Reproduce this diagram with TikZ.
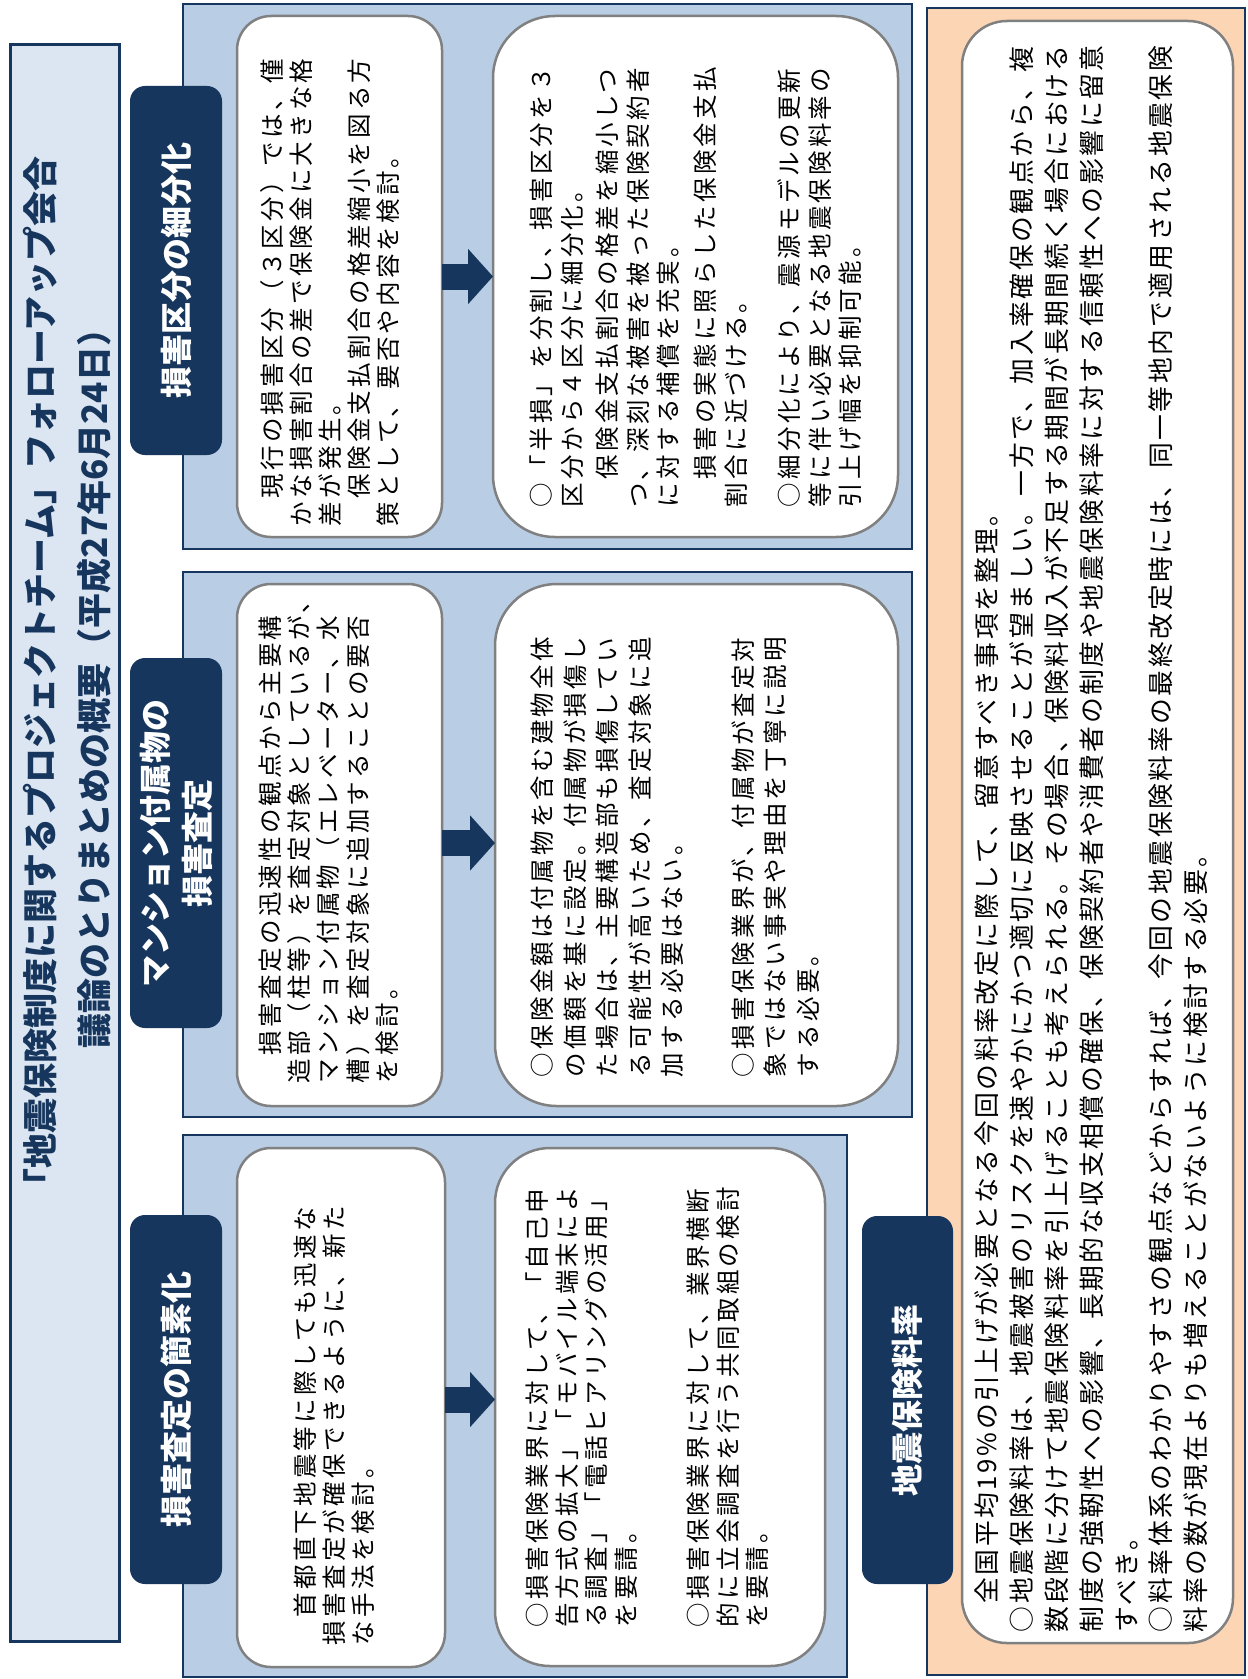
\documentclass[tikz,border=0pt]{standalone}
\usepackage{fontspec}
\setmainfont{Noto Sans CJK JP}
\newfontfamily\jpbody[LetterSpace=13]{Noto Sans CJK JP}
\newfontfamily\jpwide[LetterSpace=10]{Noto Sans CJK JP}
\usetikzlibrary{arrows.meta,calc}
\definecolor{navy}{RGB}{23,54,93}
\definecolor{panelblue}{RGB}{185,205,229}
\definecolor{titleblue}{RGB}{220,230,242}
\definecolor{peach}{RGB}{252,213,181}
\definecolor{boxgray}{RGB}{128,128,128}
\begin{document}
\begin{tikzpicture}[x=1bp,y=1bp,
  panel/.style={draw=navy, line width=2.5bp, fill=panelblue, anchor=north west, inner sep=0, outer sep=0},
  wbox/.style={draw=boxgray, line width=2.5bp, fill=white, anchor=north west, inner sep=0, outer sep=0},
  labelbox/.style={fill=navy, rounded corners=15bp, rotate=90, inner sep=0, outer sep=0,
    minimum height=92bp, text=white, align=center, font=\bfseries\fontsize{32bp}{42bp}\selectfont},
  bodytxt/.style={rotate=90, anchor=north west, align=left, inner sep=0, outer sep=0},
  smalltxt/.style={bodytxt, font=\jpbody\fontsize{24.5bp}{#1}\selectfont},
  widetxt/.style={bodytxt, font=\jpwide\fontsize{25.8bp}{34.8bp}\selectfont},
  bigarrow/.style={draw=navy, line width=26bp, -{Triangle[length=25bp,width=54bp]}}
]
\useasboundingbox (0,0) rectangle (1247,-1679);
\fill[white] (0,0) rectangle (1247,-1679);

% title
\node[draw=navy, line width=3bp, fill=titleblue, anchor=north west, inner sep=0,
  minimum width=109bp, minimum height=1597bp] (TB) at (9,-43) {};
\node[rotate=90, align=center, inner sep=0, text=navy,
  font=\bfseries\fontsize{35bp}{54bp}\selectfont] (TT) at (67,-680)
  {「地震保険制度に関するプロジェクトチーム」フォローアップ会合\\議論のとりまとめの概要（平成27年6月24日）};

% panels
\node[panel, minimum width=729bp, minimum height=545bp] (PA) at (183,-4) {};
\node[panel, minimum width=729bp, minimum height=545bp] (PB) at (183,-572) {};
\node[panel, minimum width=664bp, minimum height=542bp] (PC) at (183,-1135) {};
\node[panel, fill=peach, minimum width=318bp, minimum height=1667bp] (PE) at (927,-8) {};

% white boxes
\node[wbox, rounded corners=34bp, minimum width=205bp, minimum height=521bp] (A1) at (237,-16) {};
\node[wbox, rounded corners=62bp, minimum width=405bp, minimum height=521bp] (A2) at (493,-16) {};
\node[wbox, rounded corners=34bp, minimum width=205bp, minimum height=522bp] (B1) at (237,-584) {};
\node[wbox, rounded corners=62bp, minimum width=403bp, minimum height=522bp] (B2) at (495,-584) {};
\node[wbox, rounded corners=34bp, minimum width=208bp, minimum height=519bp] (C1) at (237,-1148) {};
\node[wbox, rounded corners=55bp, minimum width=330bp, minimum height=518bp] (C2) at (495,-1148) {};
\node[wbox, rounded corners=45bp, minimum width=271bp, minimum height=1622bp] (E) at (962,-21) {};

% labels
\node[labelbox, minimum width=369bp] (LA) at (176,-270.5) {損害区分の細分化};
\node[labelbox, minimum width=370bp] (LB) at (176,-843) {マンション付属物の\\損害査定};
\node[labelbox, minimum width=369bp] (LC) at (176,-1399.5) {損害査定の簡素化};
\node[labelbox, minimum width=368bp, minimum height=91bp] (LD) at (907.5,-1400) {地震保険料率};

% arrows
\draw[bigarrow] (A1.east) -- (A2.west);
\draw[bigarrow] (B1.east |- LB.center) -- (B2.west |- LB.center);
\draw[bigarrow] (C1.east |- LC.center) -- (C2.west |- LC.center);

% texts
\node[smalltxt=28.8bp] (A1t) at (261,-526) {　現行の損害区分（３区分）では、僅\\
かな損害割合の差で保険金に大きな格\\
差が発生。\\
　保険金支払割合の格差縮小を図る方\\
策として、要否や内容を検討。};

\node[smalltxt=30.8bp] (A2t) at (530,-507) {○「半損」を分割し、損害区分を３\\
区分から４区分に細分化。\\[4bp]
　保険金支払割合の格差を縮小しつ\\
つ、深刻な被害を被った保険契約者\\
に対する補償を充実。\\[6bp]
　損害の実態に照らした保険金支払\\
割合に近づける。\\[22bp]
○細分化により、震源モデルの更新\\
等に伴い必要となる地震保険料率の\\
引上げ幅を抑制可能。};

\node[smalltxt=29.2bp] (B1t) at (259,-1083) {　損害査定の迅速性の観点から主要構\\
造部（柱等）を査定対象としているが、\\
マンション付属物（エレベーター、水\\
槽）を査定対象に追加することの要否\\
を検討。};

\node[smalltxt=32.5bp] (B2t) at (531,-1077) {○保険金額は付属物を含む建物全体\\
の価額を基に設定。付属物が損傷し\\
た場合は、主要構造部も損傷してい\\
る可能性が高いため、査定対象に追\\
加する必要はない。\\[38bp]
○損害保険業界が、付属物が査定対\\
象ではない事実や理由を丁寧に説明\\
する必要。};

\node[smalltxt=29bp] (C1t) at (294,-1645) {　首都直下地震等に際しても迅速な\\
損害査定が確保できるように、新た\\
な手法を検討。};

\node[smalltxt=29.5bp] (C2t) at (526,-1627) {○損害保険業界に対して、「自己申\\
告方式の拡大」「モバイル端末によ\\
る調査」「電話ヒアリングの活用」\\
を要請。\\[43bp]
○損害保険業界に対して、業界横断\\
的に立会調査を行う共同取組の検討\\
を要請。};

\node[widetxt] (Et) at (975,-1632) {　全国平均19\%の引上げが必要となる今回の料率改定に際して、留意すべき事項を整理。\\
○地震保険料率は、地震被害のリスクを速やかにかつ適切に反映させることが望ましい。一方で、加入率確保の観点から、複\\
数段階に分けて地震保険料率を引上げることも考えられる。その場合、保険料収入が不足する期間が長期間続く場合における\\
制度の強靭性への影響、長期的な収支相償の確保、保険契約者や消費者の制度や地震保険料率に対する信頼性への影響に留意\\
すべき。\\
○料率体系のわかりやすさの観点などからすれば、今回の地震保険料率の最終改定時には、同一等地内で適用される地震保険\\
料率の数が現在よりも増えることがないように検討する必要。};
\end{tikzpicture}
\end{document}
